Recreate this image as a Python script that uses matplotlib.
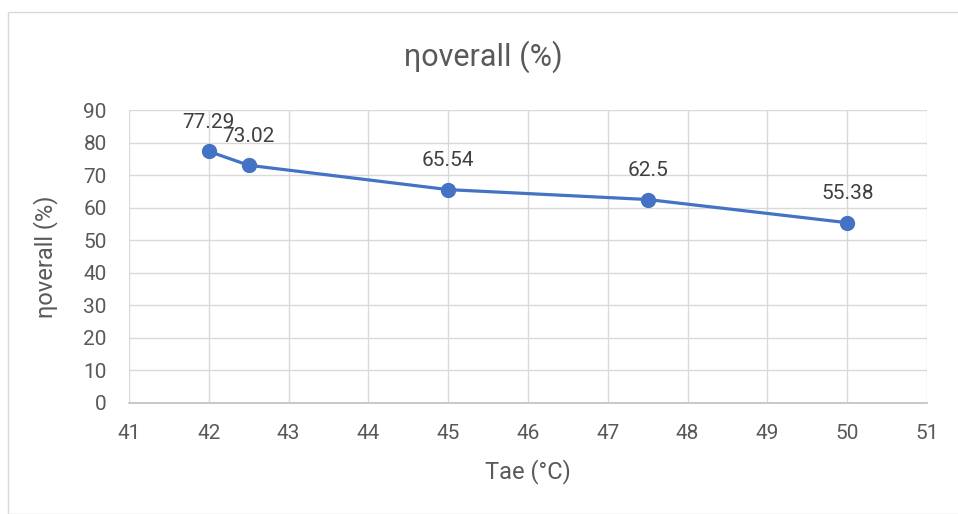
import matplotlib
matplotlib.use('Agg')
from matplotlib import pyplot as plt
from matplotlib.patches import Rectangle

plt.rcParams['font.family'] = ['Roboto', 'DejaVu Sans']

# datos
tae_x = [42, 42.5, 45, 47.5, 50]
eta_y = [77.29, 73.02, 65.54, 62.5, 55.38]
etiquetas = ['77.29', '73.02', '65.54', '62.5', '55.38']
x_ticks = [41, 42, 43, 44, 45, 46, 47, 48, 49, 50, 51]
y_ticks = [0, 10, 20, 30, 40, 50, 60, 70, 80, 90]

gris = '#595959'

fig = plt.figure(figsize=(9.58, 5.14), dpi=100)
ax = fig.add_axes([129 / 958, 1 - 403 / 514, (927 - 129) / 958, (403 - 110) / 514])

# marco exterior del grafico
fig.patches.append(Rectangle((8 / 958, 0), 1.0, 1 - 12 / 514, transform=fig.transFigure,
                             fill=False, edgecolor='#d9d9d9', linewidth=1))

ax.plot(tae_x, eta_y, color='#4472C4', linewidth=2.3, marker='o', markersize=10, zorder=3)
for x, y, t in zip(tae_x, eta_y, etiquetas):
    ax.annotate(t, (x, y), xytext=(0, 14), textcoords='offset points',
                ha='center', va='bottom', fontsize=15, color='#404040')

ax.set_xlim(41, 51)
ax.set_ylim(0, 90)
ax.set_xticks(x_ticks)
ax.set_yticks(y_ticks)
ax.grid(True, color='#d9d9d9', linewidth=1)
ax.set_axisbelow(True)
for s in ['top', 'right', 'left']:
    ax.spines[s].set_visible(False)
ax.spines['bottom'].set_color('#bfbfbf')
ax.spines['bottom'].set_linewidth(1.2)
ax.tick_params(axis='x', length=0, labelsize=15, colors=gris, pad=15)
ax.tick_params(axis='y', length=0, labelsize=15, colors=gris, pad=16)

ax.set_xlabel('Tae (°C)', fontsize=17, color=gris, labelpad=12)
ax.set_ylabel('ηoverall (%)', fontsize=17, color=gris, labelpad=18)
fig.text(0.505, 1 - 57 / 514, 'ηoverall (%)', fontsize=22, color=gris, ha='center', va='center')

fig.savefig('out.png', dpi=100)
